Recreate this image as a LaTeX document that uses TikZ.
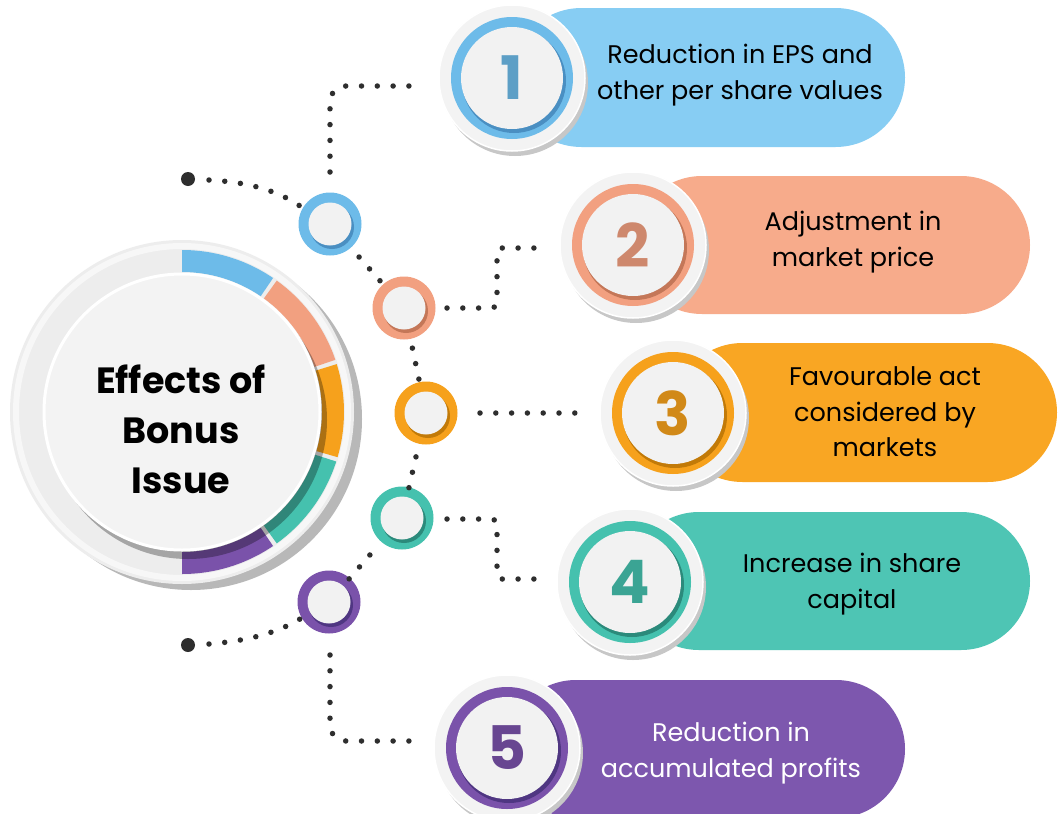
\documentclass[tikz,border=0pt]{standalone}
\usepackage{fontspec}
\setmainfont{Poppins}
\usetikzlibrary{calc}
\definecolor{cblue}{HTML}{87CDF3}
\definecolor{cbluer}{HTML}{6DBBE9}
\definecolor{cblued}{HTML}{4A8FC2}
\definecolor{csal}{HTML}{F7AB8B}
\definecolor{csalr}{HTML}{F2A080}
\definecolor{csald}{HTML}{C47758}
\definecolor{corg}{HTML}{F9A623}
\definecolor{corgr}{HTML}{F6A11C}
\definecolor{corgd}{HTML}{C27A08}
\definecolor{cteal}{HTML}{4EC5B4}
\definecolor{ctealr}{HTML}{45C1AE}
\definecolor{cteald}{HTML}{2B8A7B}
\definecolor{cpur}{HTML}{7D57AE}
\definecolor{cpurr}{HTML}{7A52AA}
\definecolor{cpurd}{HTML}{4F3682}
\definecolor{dotc}{HTML}{2E2E2E}
\definecolor{disc}{HTML}{F3F3F3}
\newcommand{\Badge}[6]{%
  \fill[black!22] (#2+3,#3+5) circle[radius=73];
  \node[circle, inner sep=0, minimum size=146, fill=disc, draw=white, line width=1.5] (#1) at (#2,#3) {};
  \fill[#4] (#1) circle[radius=61];
  \fill[#5] (#2+2,#3+3) circle[radius=52];
  \fill[black!5] (#1) circle[radius=51];
  \node[inner sep=0, text=#4!85!black] at (#1) {\fontsize{60}{60}\selectfont\bfseries #6};
}
\newcommand{\Hub}[5]{%
  \node[circle, inner sep=0, minimum size=63, fill=#4] (#1) at (#2,#3) {};
  \fill[#5] (#2+2,#3+3) circle[radius=22];
  \fill[black!5] (#1) circle[radius=21.5];
}
\newcommand{\Sector}[3]{%
  \fill[#1] ($(C)+(-#2:162)$) arc[start angle=-#2, end angle=-#3, radius=162]
    -- ($(C)+(-#3:140)$) arc[start angle=-#3, end angle=-#2, radius=140] -- cycle;
}
\begin{document}
\begin{tikzpicture}[x=1pt,y=-1pt,
  dotline/.style={draw=dotc, line width=5.5pt, line cap=round, dash pattern=on 0pt off 15.8pt},
  bigdot/.style={circle, fill=dotc, inner sep=0, minimum size=14},
  pilltext/.style={align=center, font=\fontsize{25.5}{35.5}\selectfont}]
\useasboundingbox (0,0) rectangle (1058,814);
\clip (0,0) rectangle (1058,814);
\fill[white] (0,0) rectangle (1058,814);

% pills
\fill[cblue, rounded corners=69.5] (512,8) rectangle (905,147);
\fill[csal, rounded corners=69] (633,176) rectangle (1030,314);
\fill[corg, rounded corners=69.5] (673,343) rectangle (1057,482);
\fill[cteal, rounded corners=69] (630,512) rectangle (1030,650);
\fill[cpur, rounded corners=69] (507,680) rectangle (905,818);

% big circle
\coordinate (C) at (182,412);
\fill[black!28] (191,419) circle[radius=171];
\fill[black!7] (C) circle[radius=172];
\draw[white!97!black, line width=6] (C) circle[radius=166];
\Sector{cbluer}{90}{55.8}
\Sector{csalr}{54.2}{18.8}
\Sector{corgr}{17.2}{-16.2}
\Sector{ctealr}{-17.8}{-54.2}
\Sector{cpurr}{-55.8}{-90}
\fill[black, opacity=0.3] (188,420) circle[radius=139];
\node[circle, inner sep=0, minimum size=276, fill=disc, draw=white, line width=3] (big) at (C) {};
\node[font=\fontsize{36.5}{50}\selectfont\bfseries, align=center] (title) at (181,429) {Effects of\\Bonus\\Issue};

% hubs
\Hub{h1}{330}{224}{cbluer}{cblued}
\Hub{h2}{404}{308}{csalr}{csald}
\Hub{h3}{426}{413}{corgr}{corgd}
\Hub{h4}{402}{518}{ctealr}{cteald}
\Hub{h5}{329}{602}{cpurr}{cpurd}

\node[bigdot] (L1) at (188,179) {};
\node[bigdot] (L2) at (188,645) {};
\coordinate (e1) at (412,86);
\coordinate (e2) at (537,248);
\coordinate (e3) at (577,413);
\coordinate (e4) at (537,579);
\coordinate (e5) at (412,741);

% badges
\Badge{b1}{512}{78}{cbluer}{cblued}{1}
\Badge{b2}{633}{245}{csalr}{csald}{2}
\Badge{b3}{673}{413}{corgr}{corgd}{3}
\Badge{b4}{630}{582}{ctealr}{cteald}{4}
\Badge{b5}{507}{748}{cpurr}{cpurd}{5}

% texts
\node[pilltext] (t1) at (740,75) {Reduction in EPS and\\other per share values};
\node[pilltext] (t2) at (853,242) {Adjustment in\\market price};
\node[pilltext] (t3) at (885,412) {Favourable act\\considered by\\markets};
\node[pilltext] (t4) at (852,584) {Increase in share\\capital};
\node[pilltext, text=white] (t5) at (731,753) {Reduction in\\accumulated profits};

% dotted connectors
\draw[dotline] ($(L1)+(21,1)$) .. controls (245,182) and (275,189) .. ($(h1)+(-30,-18)$);
\draw[dotline, rounded corners=16] ($(h1)+(0,-52)$) -- (330,86) -- (e1);
\draw[dotline] ($(h1)!44pt!(h2)$) -- ($(h1)!76pt!(h2)$);
\draw[dotline, rounded corners=5] ($(h2)+(43,0)$) -- (497,308) -- (497,248) -- (e2);
\draw[dotline] ($(h2)!41pt!(h3)$) -- ($(h2)!73pt!(h3)$);
\draw[dotline] ($(h3)+(54,0)$) -- (e3);
\draw[dotline] ($(h3)!45pt!(h4)$) -- ($(h3)!77pt!(h4)$);
\draw[dotline, rounded corners=5] ($(h4)+(45,1)$) -- (497,519) -- (497,579) -- (e4);
\draw[dotline] ($(h4)!49pt!(h5)$) -- ($(h4)!81pt!(h5)$);
\draw[dotline] ($(L2)+(21,-1)$) .. controls (245,641) and (275,634) .. ($(h5)+(-29,17)$);
\draw[dotline, rounded corners=16] ($(h5)+(1,53)$) -- (330,741) -- (e5);
\end{tikzpicture}
\end{document}
